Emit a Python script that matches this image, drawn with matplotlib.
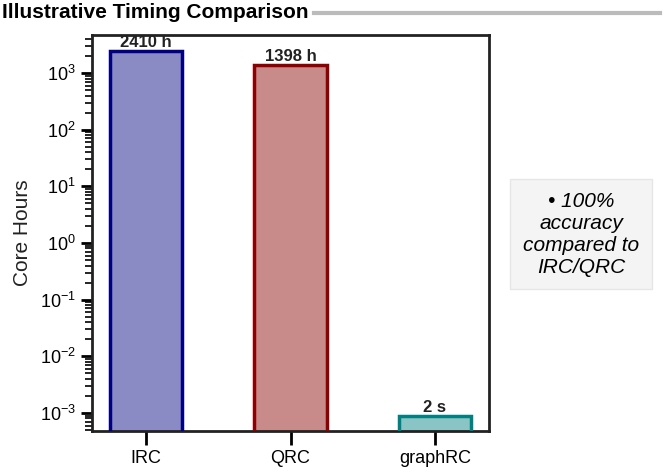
import matplotlib
matplotlib.use("Agg")
import matplotlib.pyplot as plt
from matplotlib.lines import Line2D
from matplotlib.ticker import NullFormatter, LogLocator

plt.rcParams['font.family'] = ['Liberation Sans', 'DejaVu Sans']

# data
methods = ['IRC', 'QRC', 'graphRC']
core_hours = [2410, 1398, 9e-4]   # graphRC: 2 s (bar height as drawn)
bar_labels = ['2410 h', '1398 h', '2 s']
edge_colors = ['#000080', '#8b0000', '#008080']
y_decades = [1e-3, 1e-2, 1e-1, 1e0, 1e1, 1e2, 1e3]

fig = plt.figure(figsize=(6.64, 4.73), dpi=100)
ax = fig.add_axes([92/664, 1 - 431/473, (489 - 92)/664, (431 - 35)/473])

bars = ax.bar(methods, core_hours, width=0.5, color=edge_colors, alpha=0.46, zorder=2)
# solid edges on top of the faded fill
ax.bar(methods, core_hours, width=0.5, fill=False, edgecolor=edge_colors, linewidth=2.5, zorder=3)

ax.set_yscale('log')
ax.set_yticks(y_decades)
ax.yaxis.set_minor_locator(LogLocator(base=10, subs=range(2, 10), numticks=20))
ax.yaxis.set_minor_formatter(NullFormatter())
ax.set_ylim(4.8e-4, 4700)
ax.set_xlim(-0.375, 2.375)

for b, lab in zip(bars, bar_labels):
    ax.text(b.get_x() + b.get_width()/2, b.get_height() * 1.04, lab,
            ha='center', va='bottom', fontsize=12, fontweight='bold', color='#222222')

ax.set_ylabel('Core Hours', fontsize=15, color='#222222', labelpad=6)
ax.tick_params(axis='y', which='major', length=8, width=2, labelsize=13, direction='out')
ax.tick_params(axis='y', which='minor', length=5, width=1.2)
ax.tick_params(axis='x', length=10, width=2, labelsize=13)
for s in ax.spines.values():
    s.set_linewidth(2)
    s.set_color('#222222')

# title and rule line after it
ty = 1 - 13/473
title = fig.text(0.003, ty, 'Illustrative Timing Comparison', fontsize=15, fontweight='bold',
                 va='center', ha='left')
fig.canvas.draw()
bb = title.get_window_extent()
x0 = (bb.x1 + 6) / (fig.get_figwidth() * fig.dpi)
fig.add_artist(Line2D([x0, 660/664], [ty, ty], transform=fig.transFigure,
                      color='#bbbbbb', linewidth=3))

# note box
fig.text(581/664, 1 - 234/473, '\u2022 100%\naccuracy\ncompared to\nIRC/QRC',
         ha='center', va='center', fontsize=15, style='italic', linespacing=1.2,
         bbox=dict(boxstyle='square,pad=0.6', facecolor='#f4f4f4', edgecolor='#e6e6e6'))

fig.savefig('out.png', dpi=100)
